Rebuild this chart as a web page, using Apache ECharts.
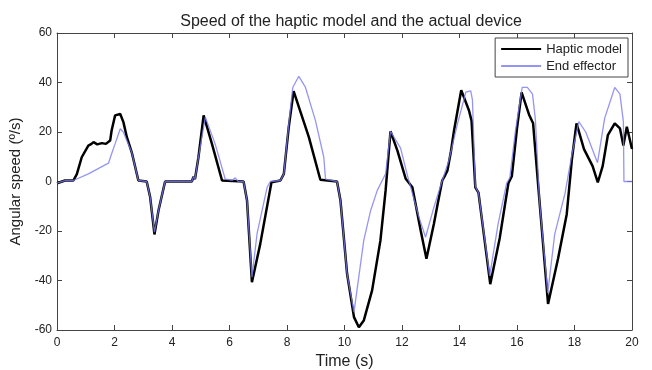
<!DOCTYPE html>
<html>
<head>
<meta charset="utf-8">
<script src="https://cdn.jsdelivr.net/npm/echarts@6/dist/echarts.min.js"></script>
<style>html,body{margin:0;padding:0;background:#fff}#c{width:652px;height:370px}</style>
</head>
<body>
<div id="c"></div>
<script>
const titleText = 'Speed of the haptic model and the actual device';
const xName = 'Time (s)';
const yName = 'Angular speed (º/s)';
const seriesNames = ['Haptic model', 'End effector'];

const hapticT = [0, 0.28, 0.57, 0.69, 0.86, 1.09, 1.2, 1.27, 1.4, 1.56, 1.7, 1.85, 1.9, 2.02, 2.2, 2.31, 2.43, 2.6, 2.83, 3.12, 3.24, 3.39, 3.53, 3.76, 4.69, 4.75, 4.8, 4.92, 5.1, 5.39, 5.74, 6.49, 6.61, 6.78, 7.07, 7.46, 7.77, 7.89, 8.06, 8.23, 8.76, 9.16, 9.74, 9.86, 10.09, 10.33, 10.5, 10.67, 10.96, 11.25, 11.43, 11.6, 11.84, 12.13, 12.36, 12.65, 12.85, 13.11, 13.25, 13.4, 13.5, 13.58, 13.7, 13.81, 14.06, 14.33, 14.42, 14.55, 14.66, 15.07, 15.4, 15.7, 15.82, 16.0, 16.16, 16.42, 16.56, 16.78, 17.08, 17.43, 17.73, 17.91, 18.07, 18.33, 18.63, 18.81, 18.98, 19.16, 19.4, 19.58, 19.7, 19.82, 20.0];
const hapticV = [-0.7, 0.4, 0.4, 3, 9.8, 14.5, 15.2, 15.9, 15.0, 15.5, 15.2, 16.6, 20.6, 26.7, 27.3, 24, 17.9, 11.8, 0.4, 0, -6.3, -21.4, -11.7, 0, 0, 2, 1, 9.8, 26.7, 15.2, 0.4, 0, -7.7, -40.7, -25.2, -0.3, 0.4, 3.1, 21.9, 36.5, 17.9, 0.7, 0, -7.7, -37.3, -54.8, -58.9, -56.2, -44, -23.8, -3.6, 20.3, 12.5, 1.1, -2.3, -19.8, -31.2, -17.1, -8.5, 0.4, 2.5, 4.4, 12, 20.6, 36.9, 28.7, 24.5, -2.4, -4.5, -41.5, -22.8, -0.7, 2.1, 21.5, 36, 27, 23.5, -7.6, -49.5, -31, -13.2, 9, 23.5, 13.1, 6.2, -0.4, 6.2, 18.7, 23.5, 21.5, 14.5, 22.1, 13.1];

const effectorT = [0, 0.28, 0.57, 1.09, 1.79, 1.9, 2.02, 2.2, 2.31, 2.45, 2.6, 2.83, 3.12, 3.24, 3.39, 3.53, 3.76, 4.69, 4.75, 4.8, 4.92, 5.16, 5.5, 5.85, 6.1, 6.2, 6.3, 6.49, 6.61, 6.78, 6.96, 7.31, 7.42, 7.77, 7.89, 8.06, 8.2, 8.41, 8.64, 8.99, 9.28, 9.34, 9.74, 9.86, 10.09, 10.33, 10.67, 10.91, 11.14, 11.43, 11.6, 11.95, 12.2, 12.59, 12.82, 13.11, 13.4, 13.63, 13.93, 14.22, 14.39, 14.45, 14.55, 14.66, 15.05, 15.34, 15.64, 15.75, 15.94, 16.18, 16.36, 16.54, 16.64, 16.78, 17.07, 17.31, 17.67, 17.91, 18.15, 18.39, 18.8, 19.05, 19.4, 19.58, 19.7, 19.72, 20.0];
const effectorV = [-0.7, 0.4, 0.4, 3.1, 7.4, 11.2, 15.2, 21.3, 19.9, 16, 11.8, 0.4, 0, -6.3, -20.5, -11.7, 0, 0, 2, 1, 9.8, 26, 15.2, 1, 0.5, 1.5, 0, 0, -7.7, -38.7, -21, -2.3, 0, 0.4, 3.1, 23, 38, 42.5, 38.1, 24.6, 9.8, 1, 0, -7.7, -37.3, -52.8, -23.8, -11.7, -3.6, 3.1, 20.3, 13.5, 2, -14.4, -22.5, -10.4, 0.4, 8.5, 23.3, 36.1, 36.6, 33, -2, -4.5, -38.1, -17.3, -0.7, 1.5, 20, 38, 38, 35.3, 25, -7.6, -45, -21.4, -4.8, 11, 24.2, 20, 7.6, 25.6, 38, 35.3, 24.2, 0, 0];

const xMin = 0, xMax = 20, xStep = 2;
const yMin = -60, yMax = 60, yStep = 20;

const pairs = (t, v) => t.map((x, i) => [x, v[i]]);
const font = 'Liberation Sans, Arial, sans-serif';
const frame = '#444';
const hapticColor = '#000';
const effectorColor = '#7a7af0';

const chart = echarts.init(document.getElementById('c'), null, {renderer: 'canvas'});
const baseAxis = {
  axisLine: {show: true, onZero: false, lineStyle: {color: frame, width: 1}},
  axisTick: {show: true, inside: true, length: 5, lineStyle: {color: frame}},
  splitLine: {show: false},
  axisLabel: {color: '#222', fontFamily: font, fontSize: 12}
};
chart.setOption({
  animation: false,
  backgroundColor: '#fff',
  title: {
    text: titleText, left: 346, top: 9, textAlign: 'center',
    textStyle: {fontFamily: font, fontSize: 16, fontWeight: 'normal', color: '#222'}
  },
  grid: {left: 57, right: 20, top: 33, bottom: 40, containLabel: false, outerBoundsMode: 'none'},
  legend: {
    data: [
      {name: seriesNames[0], icon: 'rect', itemStyle: {color: hapticColor}},
      {name: seriesNames[1], icon: 'rect', itemStyle: {color: effectorColor, opacity: 0.8}}
    ],
    orient: 'vertical', right: 24, top: 38,
    backgroundColor: '#fff', borderColor: frame, borderWidth: 1,
    padding: [4, 6, 4, 6], itemGap: 3, itemWidth: 40, itemHeight: 2,
    textStyle: {fontFamily: font, fontSize: 13, color: '#222', lineHeight: 14}
  },
  xAxis: [
    Object.assign({}, baseAxis, {
      type: 'value', min: xMin, max: xMax, interval: xStep, position: 'bottom',
      name: xName, nameLocation: 'middle', nameGap: 21,
      nameTextStyle: {fontFamily: font, fontSize: 16, color: '#222'},
      axisLabel: Object.assign({}, baseAxis.axisLabel, {margin: 7})
    }),
    Object.assign({}, baseAxis, {
      type: 'value', min: xMin, max: xMax, interval: xStep, position: 'top',
      axisLabel: {show: false}
    })
  ],
  yAxis: [
    Object.assign({}, baseAxis, {
      type: 'value', min: yMin, max: yMax, interval: yStep, position: 'left',
      name: yName, nameLocation: 'middle', nameGap: 27,
      nameTextStyle: {fontFamily: font, fontSize: 15, color: '#222'},
      axisLabel: Object.assign({}, baseAxis.axisLabel, {margin: 5})
    }),
    Object.assign({}, baseAxis, {
      type: 'value', min: yMin, max: yMax, interval: yStep, position: 'right',
      axisLabel: {show: false}
    })
  ],
  series: [
    {
      name: seriesNames[0], type: 'line', data: pairs(hapticT, hapticV),
      symbol: 'none', smooth: false, z: 2,
      lineStyle: {color: hapticColor, width: 2.5}, itemStyle: {color: hapticColor}
    },
    {
      name: seriesNames[1], type: 'line', data: pairs(effectorT, effectorV),
      symbol: 'none', smooth: false, z: 3,
      lineStyle: {color: effectorColor, width: 1.3, opacity: 0.8}, itemStyle: {color: effectorColor}
    }
  ]
});
</script>
</body>
</html>
